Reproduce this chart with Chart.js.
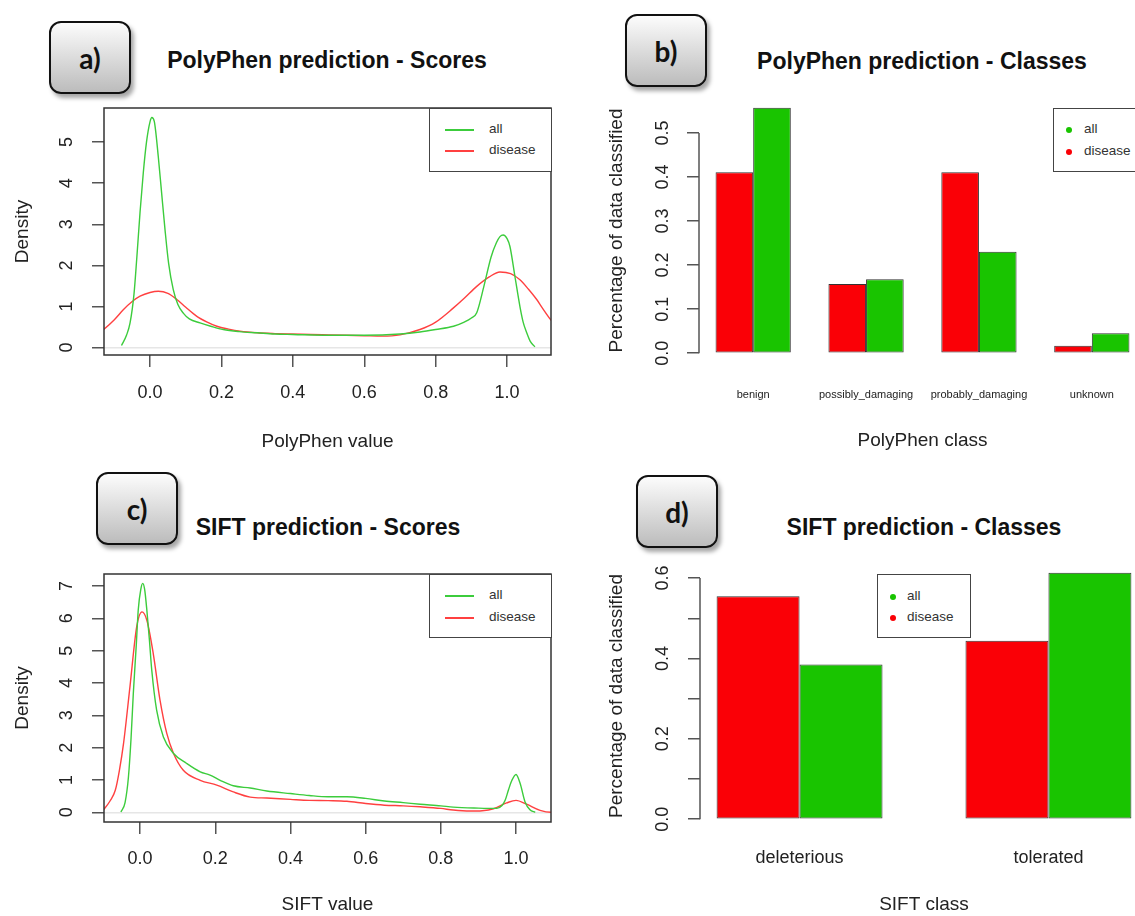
<!DOCTYPE html>
<html>
<head>
<meta charset="utf-8">
<script src="https://cdn.jsdelivr.net/npm/chart.js@4.4.0/dist/chart.umd.min.js"></script>
<style>
  body { margin: 0; width: 1135px; height: 916px; overflow: hidden; background: #fff; position: relative;
         font-family: "Liberation Sans", Arial, sans-serif; }
  canvas { position: absolute; }
  .tag { position: absolute; box-sizing: border-box; border: 2px solid #111; border-radius: 12px;
         background: linear-gradient(#fcfcfc, #bcbcbc); box-shadow: 3px 4px 4px rgba(0,0,0,0.35);
         font-family: Lato, "Open Sans", sans-serif; font-weight: 700; font-size: 28px; color: #111;
         display: flex; align-items: center; justify-content: center; }
  .title { position: absolute; font-weight: bold; font-size: 23px; line-height: 24px; height: 24px;
           white-space: nowrap; transform: translateX(-50%); color: #111; }
  .legend { position: absolute; box-sizing: border-box; border: 1.5px solid #444; background: #fff;
            font-size: 13.5px; color: #333; }
  .legend span { position: absolute; line-height: 16px; }
  .legend b { position: absolute; display: block; }
</style>
</head>
<body>

<div class="tag" style="left:49px;top:21px;width:82px;height:73px">a)</div>
<div class="tag" style="left:625px;top:14px;width:82px;height:73px">b)</div>
<div class="tag" style="left:96px;top:472px;width:82px;height:73px">c)</div>
<div class="tag" style="left:636px;top:475px;width:82px;height:73px">d)</div>

<div class="title" style="left:327px;top:48px">PolyPhen prediction - Scores</div>
<div class="title" style="left:922px;top:49px">PolyPhen prediction - Classes</div>
<div class="title" style="left:328px;top:515px">SIFT prediction - Scores</div>
<div class="title" style="left:924px;top:515px">SIFT prediction - Classes</div>

<canvas id="polyScores" width="560" height="460" style="left:0;top:0"></canvas>
<canvas id="polyClasses" width="600" height="460" style="left:560px;top:0"></canvas>
<canvas id="siftScores" width="560" height="456" style="left:0;top:460px"></canvas>
<canvas id="siftClasses" width="600" height="456" style="left:560px;top:460px"></canvas>

<script>
// ---- data ----
const seriesNames = ["all", "disease"];

// a) PolyPhen density
const polyAllX = [-0.08, -0.066, -0.056, -0.045, -0.037, -0.028, -0.019, -0.01, 0.0, 0.005, 0.012, 0.023, 0.032, 0.042, 0.052, 0.065, 0.078, 0.093, 0.11, 0.14, 0.17, 0.205, 0.25, 0.3, 0.35, 0.4, 0.5, 0.6, 0.7, 0.756, 0.8, 0.85, 0.88, 0.9, 0.915, 0.935, 0.955, 0.97, 0.98, 0.989, 1.0, 1.008, 1.022, 1.036, 1.045, 1.055, 1.065, 1.078];
const polyAllY = [0.05, 0.3, 0.6, 1.3, 2.2, 3.3, 4.25, 5.0, 5.5, 5.6, 5.5, 4.65, 3.8, 2.86, 2.05, 1.41, 1.05, 0.84, 0.7, 0.6, 0.52, 0.44, 0.39, 0.36, 0.33, 0.32, 0.3, 0.3, 0.33, 0.38, 0.44, 0.52, 0.62, 0.72, 0.85, 1.49, 2.2, 2.55, 2.7, 2.74, 2.65, 2.46, 1.73, 1.0, 0.62, 0.36, 0.15, 0.02];
const polyDisX = [-0.14, -0.129, -0.1, -0.075, -0.05, -0.028, 0.0, 0.023, 0.05, 0.075, 0.1, 0.131, 0.16, 0.187, 0.22, 0.252, 0.3, 0.35, 0.392, 0.45, 0.5, 0.55, 0.6, 0.65, 0.7, 0.756, 0.8, 0.849, 0.88, 0.915, 0.95, 0.98, 1.01, 1.036, 1.06, 1.083, 1.1, 1.122, 1.14];
const polyDisY = [0.38, 0.45, 0.68, 0.92, 1.12, 1.25, 1.34, 1.37, 1.32, 1.17, 0.98, 0.76, 0.62, 0.52, 0.45, 0.4, 0.36, 0.34, 0.33, 0.32, 0.31, 0.3, 0.29, 0.28, 0.31, 0.44, 0.62, 0.96, 1.2, 1.49, 1.72, 1.84, 1.8, 1.65, 1.42, 1.17, 0.95, 0.68, 0.5];
const polyScoreTicks = [0, 0.2, 0.4, 0.6, 0.8, 1.0];
const polyDensityTicks = [0, 1, 2, 3, 4, 5];

// b) PolyPhen classes
const polyClasses = ["benign", "possibly_damaging", "probably_damaging", "unknown"];
const polyClassAll = [0.557, 0.168, 0.23, 0.045];
const polyClassDisease = [0.411, 0.157, 0.411, 0.017];
const polyPctTicks = [0, 0.1, 0.2, 0.3, 0.4, 0.5];
const polyPctLabels = ["0.0", "0.1", "0.2", "0.3", "0.4", "0.5"];

// c) SIFT density
const siftAllX = [-0.051, -0.04, -0.031, -0.024, -0.018, -0.01, -0.005, 0.002, 0.007, 0.012, 0.018, 0.025, 0.031, 0.044, 0.062, 0.089, 0.124, 0.16, 0.186, 0.213, 0.248, 0.293, 0.337, 0.4, 0.45, 0.5, 0.55, 0.6, 0.65, 0.7, 0.745, 0.8, 0.833, 0.9, 0.949, 0.962, 0.971, 0.98, 0.989, 1.0, 1.011, 1.024, 1.037, 1.051];
const siftAllY = [0.01, 0.3, 1.09, 2.3, 3.68, 5.2, 6.25, 6.9, 7.08, 6.9, 6.25, 5.3, 4.4, 3.16, 2.33, 1.82, 1.51, 1.25, 1.15, 0.99, 0.82, 0.75, 0.66, 0.58, 0.52, 0.48, 0.48, 0.43, 0.35, 0.3, 0.25, 0.2, 0.16, 0.13, 0.12, 0.2, 0.37, 0.7, 0.99, 1.17, 0.89, 0.32, 0.08, 0.0];
const siftDisX = [-0.1, -0.095, -0.08, -0.066, -0.055, -0.044, -0.027, -0.009, 0.005, 0.018, 0.035, 0.053, 0.071, 0.089, 0.115, 0.16, 0.204, 0.248, 0.293, 0.337, 0.4, 0.45, 0.5, 0.55, 0.6, 0.65, 0.7, 0.745, 0.8, 0.833, 0.878, 0.91, 0.94, 0.975, 1.0, 1.028, 1.064, 1.093, 1.1];
const siftDisY = [0.05, 0.11, 0.35, 0.68, 1.3, 2.13, 3.88, 5.74, 6.2, 5.94, 4.91, 3.47, 2.44, 1.82, 1.3, 0.99, 0.84, 0.63, 0.47, 0.44, 0.4, 0.37, 0.36, 0.34, 0.27, 0.22, 0.2, 0.17, 0.12, 0.07, 0.04, 0.05, 0.11, 0.29, 0.37, 0.25, 0.06, 0.0, 0.0];
const siftScoreTicks = [0, 0.2, 0.4, 0.6, 0.8, 1.0];
const siftDensityTicks = [0, 1, 2, 3, 4, 5, 6, 7];

// d) SIFT classes
const siftClasses = ["deleterious", "tolerated"];
const siftClassAll = [0.385, 0.613];
const siftClassDisease = [0.555, 0.444];
const siftPctTicks = [0, 0.1, 0.2, 0.3, 0.4, 0.5, 0.6];
const siftPctLabels = ["0.0", "", "0.2", "", "0.4", "", "0.6"];

// ---- styling ----
const GREEN_LINE = "#3ccc3c", RED_LINE = "#ff4040";
const GREEN_BAR = "#19c400", RED_BAR = "#fa0006";
const FONT = "'Liberation Sans', Arial, sans-serif";
Chart.defaults.font.family = FONT;
Chart.defaults.color = "#222";

// R draws a full box round density plots
const frameBox = {
  id: "frameBox",
  afterDraw(chart) {
    const { ctx, chartArea: a } = chart;
    ctx.save();
    ctx.strokeStyle = "#333";
    ctx.lineWidth = 1.5;
    ctx.strokeRect(a.left, a.top, a.right - a.left, a.bottom - a.top);
    ctx.restore();
  },
};

// barplot axis line only runs from first to last tick
const yAxisLine = {
  id: "yAxisLine",
  afterDraw(chart) {
    const s = chart.scales.y;
    const t = s.ticks;
    const { ctx } = chart;
    ctx.save();
    ctx.strokeStyle = "#555";
    ctx.lineWidth = 1.5;
    ctx.beginPath();
    ctx.moveTo(chart.chartArea.left, s.getPixelForValue(t[0].value));
    ctx.lineTo(chart.chartArea.left, s.getPixelForValue(t[t.length - 1].value));
    ctx.stroke();
    ctx.restore();
  },
};

function points(xs, ys) {
  return xs.map((x, i) => ({ x: x, y: ys[i] }));
}

function setTicks(values) {
  return (s) => { s.ticks = values.map((v) => ({ value: v })); };
}

function densityChart(id, o) {
  return new Chart(document.getElementById(id), {
    type: "line",
    data: {
      datasets: [
        { label: seriesNames[0], data: points(o.allX, o.allY), borderColor: GREEN_LINE },
        { label: seriesNames[1], data: points(o.disX, o.disY), borderColor: RED_LINE },
      ],
    },
    options: {
      responsive: false,
      animation: false,
      layout: { padding: { left: 0, top: o.top, right: o.right, bottom: 0 } },
      elements: {
        point: { radius: 0 },
        line: { borderWidth: 1.4, cubicInterpolationMode: "monotone" },
      },
      plugins: { legend: { display: false }, tooltip: { enabled: false } },
      scales: {
        x: {
          type: "linear",
          min: o.xMin, max: o.xMax,
          afterBuildTicks: setTicks(o.xTicks),
          afterFit: (s) => { s.height = o.xHeight; },
          border: { display: false },
          grid: { drawOnChartArea: false, drawTicks: true, tickLength: 12, color: "#555", lineWidth: 1.5 },
          ticks: { padding: o.xPad, font: { size: 18 }, callback: (v) => v.toFixed(1) },
          title: { display: true, text: o.xTitle, font: { size: 19 }, padding: { top: 0, bottom: o.xTitlePad } },
        },
        y: {
          type: "linear",
          min: o.yMin, max: o.yMax,
          afterBuildTicks: setTicks(o.yTicks),
          afterFit: (s) => { s.width = 104; },
          border: { display: false },
          grid: {
            drawOnChartArea: true, drawTicks: true, tickLength: 12, lineWidth: 1.5, tickColor: "#555",
            color: (c) => (c.tick && c.tick.value === 0 ? "#e6e6e6" : "rgba(0,0,0,0)"),
          },
          ticks: { padding: 20, font: { size: 18 }, minRotation: 90, maxRotation: 90, crossAlign: "center",
                   callback: (v) => String(v) },
          title: { display: true, text: "Density", font: { size: 19 }, padding: { top: 11.6, bottom: 0 } },
        },
      },
    },
    plugins: [frameBox],
  });
}

function classChart(id, o) {
  const n = o.classes.length;
  // R barplot: groups of 2 bars + 1 bar gap, xlim padded by 4%
  const centers = o.classes.map((c, i) => 3 * i + 2);
  const ext = 0.04 * (3 * n - 1);
  const top = Math.max(...o.all, ...o.disease);
  return new Chart(document.getElementById(id), {
    type: "bar",
    data: {
      datasets: [
        { label: seriesNames[1], data: o.disease.map((v, i) => ({ x: centers[i], y: v })), backgroundColor: RED_BAR },
        { label: seriesNames[0], data: o.all.map((v, i) => ({ x: centers[i], y: v })), backgroundColor: GREEN_BAR },
      ],
    },
    options: {
      responsive: false,
      animation: false,
      layout: { padding: { left: 0, top: o.top, right: o.right, bottom: 0 } },
      datasets: {
        bar: { categoryPercentage: 2 / 3, barPercentage: 1, borderColor: "#333", borderWidth: 1, borderSkipped: false },
      },
      plugins: { legend: { display: false }, tooltip: { enabled: false } },
      scales: {
        x: {
          type: "linear",
          offset: false,
          min: 1 - ext, max: 3 * n + ext,
          afterBuildTicks: setTicks(centers),
          afterFit: (s) => { s.height = o.xHeight; },
          border: { display: false },
          grid: { display: false, drawTicks: false },
          ticks: { padding: o.xPad, autoSkip: false, maxRotation: 0, font: { size: o.xFont },
                   callback: (v, i) => o.classes[i] },
          title: { display: true, text: o.xTitle, font: { size: 19 }, padding: { top: 0, bottom: o.xTitlePad } },
        },
        y: {
          type: "linear",
          min: -0.04 * top, max: top * 1.04,
          afterBuildTicks: setTicks(o.yTicks),
          afterFit: (s) => { s.width = o.yWidth; },
          border: { display: false },
          grid: { drawOnChartArea: false, drawTicks: true, tickLength: 12, color: "#555", lineWidth: 1.5 },
          ticks: { padding: o.yPad, font: { size: 18 }, minRotation: 90, maxRotation: 90, crossAlign: "center",
                   callback: (v, i) => o.yLabels[i] },
          title: { display: true, text: "Percentage of data classified", font: { size: 19 },
                   padding: { top: 45.6, bottom: 0 } },
        },
      },
    },
    plugins: [yAxisLine],
  });
}

densityChart("polyScores", {
  allX: polyAllX, allY: polyAllY, disX: polyDisX, disY: polyDisY,
  xMin: -0.129, xMax: 1.123, yMin: -0.18, yMax: 5.83,
  xTicks: polyScoreTicks, yTicks: polyDensityTicks,
  top: 108, right: 9, xHeight: 105, xPad: 15, xTitlePad: 6.6, xTitle: "PolyPhen value",
});

densityChart("siftScores", {
  allX: siftAllX, allY: siftAllY, disX: siftDisX, disY: siftDisY,
  xMin: -0.096, xMax: 1.093, yMin: -0.3, yMax: 7.37,
  xTicks: siftScoreTicks, yTicks: siftDensityTicks,
  top: 114, right: 9, xHeight: 94, xPad: 14, xTitlePad: 0, xTitle: "SIFT value",
});

classChart("polyClasses", {
  classes: polyClasses, all: polyClassAll, disease: polyClassDisease,
  yTicks: polyPctTicks, yLabels: polyPctLabels,
  top: 98, right: 14, yWidth: 139, yPad: 11.5, xHeight: 97, xPad: 25, xFont: 11,
  xTitlePad: 7.6, xTitle: "PolyPhen class",
});

classChart("siftClasses", {
  classes: siftClasses, all: siftClassAll, disease: siftClassDisease,
  yTicks: siftPctTicks, yLabels: siftPctLabels,
  top: 103, right: 12, yWidth: 140, yPad: 12.5, xHeight: 87, xPad: 18, xFont: 18,
  xTitlePad: 0, xTitle: "SIFT class",
});

// ---- legends (R-style boxes) ----
function legend(box, items, kind) {
  const el = document.createElement("div");
  el.className = "legend";
  el.style.left = box.left + "px";
  el.style.top = box.top + "px";
  el.style.width = box.width + "px";
  el.style.height = box.height + "px";
  items.forEach((it, i) => {
    const cy = box.rows[i] - box.top;
    const mark = document.createElement("b");
    if (kind === "line") {
      mark.style.cssText = `left:${box.markX - box.left}px;top:${cy - 1}px;width:29px;height:2px;background:${it.color}`;
    } else {
      mark.style.cssText = `left:${box.markX - box.left - 3}px;top:${cy - 3}px;width:6px;height:6px;border-radius:50%;background:${it.color}`;
    }
    el.appendChild(mark);
    const t = document.createElement("span");
    t.textContent = it.name;
    t.style.left = box.textX - box.left + "px";
    t.style.top = cy - 9 + "px";
    el.appendChild(t);
  });
  document.body.appendChild(el);
}

const lineItems = [{ name: seriesNames[0], color: GREEN_LINE }, { name: seriesNames[1], color: RED_LINE }];
const dotItems = [{ name: seriesNames[0], color: GREEN_BAR }, { name: seriesNames[1], color: RED_BAR }];

legend({ left: 429, top: 108, width: 123, height: 64, rows: [129, 150], markX: 444, textX: 488 }, lineItems, "line");
legend({ left: 429, top: 574, width: 123, height: 64, rows: [595, 617], markX: 444, textX: 488 }, lineItems, "line");
legend({ left: 1053, top: 108, width: 94, height: 64, rows: [129, 151], markX: 1068, textX: 1083 }, dotItems, "dot");
legend({ left: 877, top: 574, width: 94, height: 64, rows: [596, 617], markX: 892, textX: 906 }, dotItems, "dot");
</script>
</body>
</html>
